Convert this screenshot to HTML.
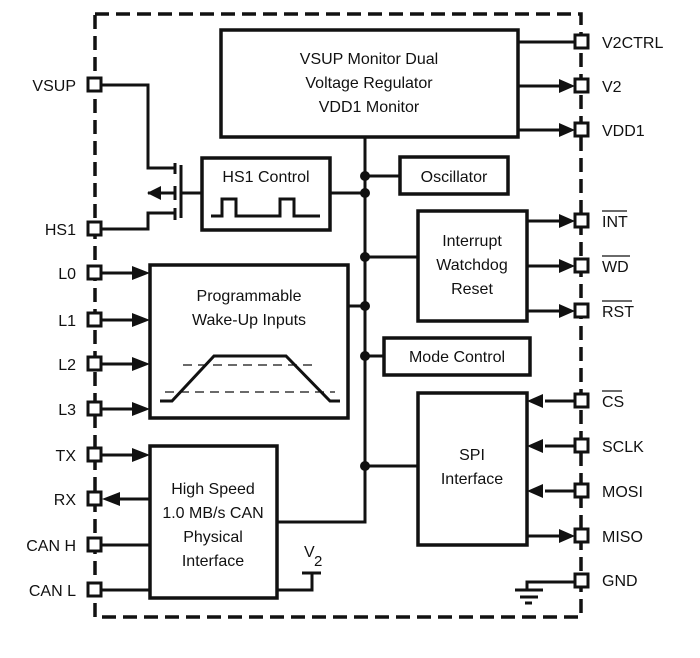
<!DOCTYPE html>
<html><head><style>
html,body{margin:0;padding:0;background:#fff;}
svg text{font-family:"Liberation Sans",sans-serif;font-weight:400;font-size:16px;fill:#111;}
</style></head><body>
<svg width="700" height="653" viewBox="0 0 700 653" xmlns="http://www.w3.org/2000/svg">
<g fill="none" stroke="#111">
<rect x="95" y="14" width="486" height="603" stroke-width="3.5" stroke-dasharray="14,7"/>
<g stroke-width="3.5">
<rect x="221" y="30" width="297" height="107"/>
<rect x="202" y="158" width="128" height="72"/>
<rect x="400" y="157" width="108" height="37"/>
<rect x="418" y="211" width="109" height="110"/>
<rect x="150" y="265" width="198" height="153"/>
<rect x="384" y="338" width="146" height="37"/>
<rect x="418" y="393" width="109" height="152"/>
<rect x="150" y="446" width="127" height="152"/>
</g>
<g stroke-width="3">
<path d="M365 137V522H277"/>
<path d="M365 176H400M330 193H365M365 257H418M348 306H365M365 356H384M365 466H418"/>
<path d="M518 42H575M518 86H565M518 130H565M527 221H565M527 266H565M527 311H565M527 536H565"/>
<path d="M581 401H545M581 446H545M581 491H545"/>
<path d="M101 273H135M101 320H135M101 364H135M101 409H135M101 455H135M150 499H118M101 545H150M101 590H150"/>
<path d="M101 85H148V168H175M101 229H148V213H175M148 193H175M181 193H202"/>
<path d="M175 163V174M175 186V200M175 208V220" stroke-width="3"/>
<path d="M181 165V218" stroke-width="3"/>
<path d="M211 216H222V199H236V216H280V199H294V216H320"/>
<path d="M160 401H172L214 356H286L330 401H340"/>
<path d="M183 365H318M165 392H335" stroke-width="1.2" stroke-dasharray="9,6"/>
<path d="M277 590H312V573M302 573H321"/>
<path d="M581 582H527V590M515 590H543M520 597H538M525 603H532"/>
</g>
</g>
<g fill="#fff" stroke="#111" stroke-width="3">
<rect x="88" y="78" width="13" height="13"/><rect x="88" y="222" width="13" height="13"/>
<rect x="88" y="266" width="13" height="13"/><rect x="88" y="313" width="13" height="13"/>
<rect x="88" y="357" width="13" height="13"/><rect x="88" y="402" width="13" height="13"/>
<rect x="88" y="448" width="13" height="13"/><rect x="88" y="492" width="13" height="13"/>
<rect x="88" y="538" width="13" height="13"/><rect x="88" y="583" width="13" height="13"/>
<rect x="575" y="35" width="13" height="13"/><rect x="575" y="79" width="13" height="13"/>
<rect x="575" y="123" width="13" height="13"/><rect x="575" y="214" width="13" height="13"/>
<rect x="575" y="259" width="13" height="13"/><rect x="575" y="304" width="13" height="13"/>
<rect x="575" y="394" width="13" height="13"/><rect x="575" y="439" width="13" height="13"/>
<rect x="575" y="484" width="13" height="13"/><rect x="575" y="529" width="13" height="13"/>
<rect x="575" y="574" width="13" height="13"/>
</g>
<g fill="#111">
<path d="M575 86l-16-7v14zM575 130l-16-7v14zM575 221l-16-7v14zM575 266l-16-7v14zM575 311l-16-7v14zM575 536l-16-7v14z"/>
<path d="M527 401l16-7v14zM527 446l16-7v14zM527 491l16-7v14z"/>
<path d="M150 273l-18-7v14zM150 320l-18-7v14zM150 364l-18-7v14zM150 409l-18-7v14zM150 455l-18-7v14z"/>
<path d="M102 499l18-7v14z"/>
<path d="M147 193l14-7v14z"/>
<circle cx="365" cy="176" r="5"/><circle cx="365" cy="193" r="5"/><circle cx="365" cy="257" r="5"/>
<circle cx="365" cy="306" r="5"/><circle cx="365" cy="356" r="5"/><circle cx="365" cy="466" r="5"/>
</g>
<g text-anchor="middle">
<text x="369" y="64">VSUP Monitor Dual</text>
<text x="369" y="88">Voltage Regulator</text>
<text x="369" y="112">VDD1 Monitor</text>
<text x="266" y="182">HS1 Control</text>
<text x="454" y="182">Oscillator</text>
<text x="472" y="246">Interrupt</text>
<text x="472" y="270">Watchdog</text>
<text x="472" y="294">Reset</text>
<text x="249" y="301">Programmable</text>
<text x="249" y="325">Wake-Up Inputs</text>
<text x="457" y="362">Mode Control</text>
<text x="472" y="460">SPI</text>
<text x="472" y="484">Interface</text>
<text x="213" y="494">High Speed</text>
<text x="213" y="518">1.0 MB/s CAN</text>
<text x="213" y="542">Physical</text>
<text x="213" y="566">Interface</text>
</g>
<text x="304" y="557">V</text><text x="314" y="566" style="font-size:15px">2</text>
<g text-anchor="end">
<text x="76" y="91">VSUP</text><text x="76" y="235">HS1</text>
<text x="76" y="279">L0</text><text x="76" y="326">L1</text>
<text x="76" y="370">L2</text><text x="76" y="415">L3</text>
<text x="76" y="461">TX</text><text x="76" y="505">RX</text>
<text x="76" y="551">CAN H</text><text x="76" y="596">CAN L</text>
</g>
<text x="602" y="48">V2CTRL</text><text x="602" y="92">V2</text>
<text x="602" y="136">VDD1</text><text x="602" y="227">INT</text>
<text x="602" y="272">WD</text><text x="602" y="317">RST</text>
<text x="602" y="407">CS</text><text x="602" y="452">SCLK</text>
<text x="602" y="497">MOSI</text><text x="602" y="542">MISO</text>
<text x="602" y="586">GND</text>
<g stroke="#111" stroke-width="1.3">
<path d="M602 211H627M602 256H630M602 301H632M602 391H622"/>
</g>
</svg>
</body></html>
